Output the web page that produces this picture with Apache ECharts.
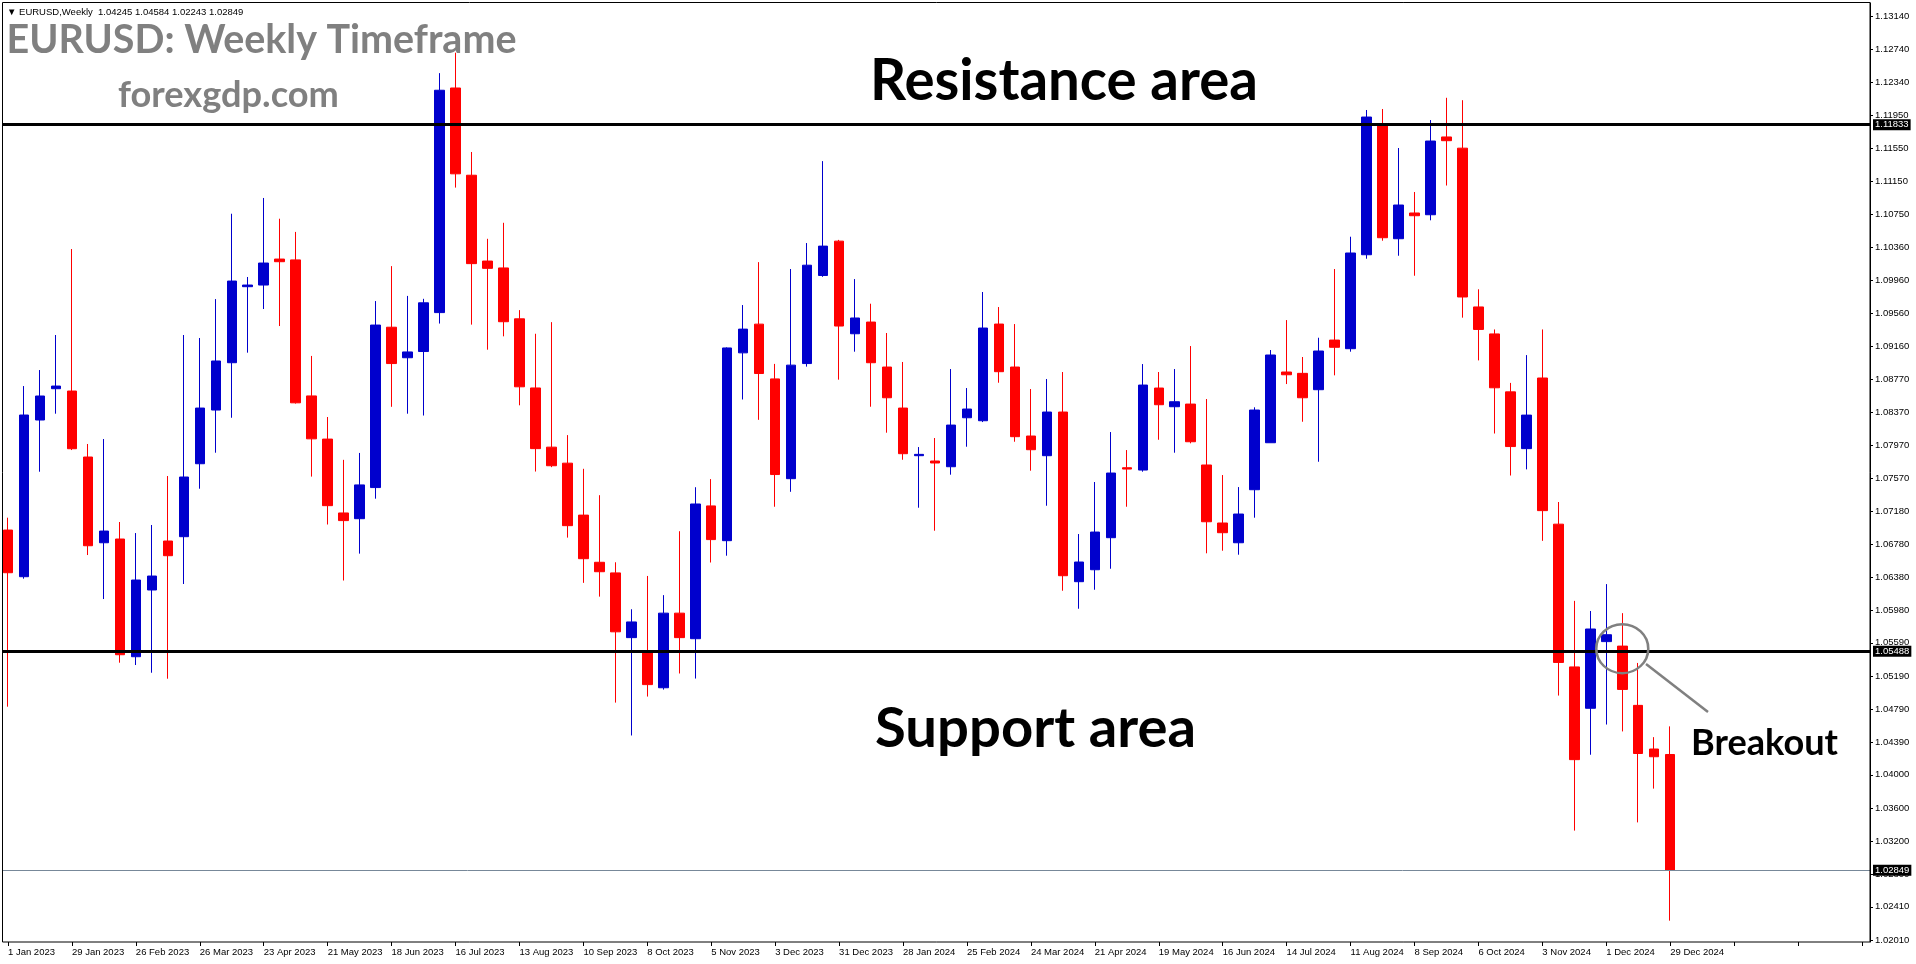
<!DOCTYPE html>
<html><head><meta charset="utf-8">
<script src="https://cdn.jsdelivr.net/npm/echarts@6/dist/echarts.min.js"></script>
<style>html,body{margin:0;padding:0;background:#fff;overflow:hidden}#c{width:1916px;height:964px}</style>
</head><body><div id="c"></div>
<script>
const weeks = ['1 Jan 2023','8 Jan 2023','15 Jan 2023','22 Jan 2023','29 Jan 2023','5 Feb 2023','12 Feb 2023','19 Feb 2023','26 Feb 2023','5 Mar 2023','12 Mar 2023','19 Mar 2023','26 Mar 2023','2 Apr 2023','9 Apr 2023','16 Apr 2023','23 Apr 2023','30 Apr 2023','7 May 2023','14 May 2023','21 May 2023','28 May 2023','4 Jun 2023','11 Jun 2023','18 Jun 2023','25 Jun 2023','2 Jul 2023','9 Jul 2023','16 Jul 2023','23 Jul 2023','30 Jul 2023','6 Aug 2023','13 Aug 2023','20 Aug 2023','27 Aug 2023','3 Sep 2023','10 Sep 2023','17 Sep 2023','24 Sep 2023','1 Oct 2023','8 Oct 2023','15 Oct 2023','22 Oct 2023','29 Oct 2023','5 Nov 2023','12 Nov 2023','19 Nov 2023','26 Nov 2023','3 Dec 2023','10 Dec 2023','17 Dec 2023','24 Dec 2023','31 Dec 2023','7 Jan 2024','14 Jan 2024','21 Jan 2024','28 Jan 2024','4 Feb 2024','11 Feb 2024','18 Feb 2024','25 Feb 2024','3 Mar 2024','10 Mar 2024','17 Mar 2024','24 Mar 2024','31 Mar 2024','7 Apr 2024','14 Apr 2024','21 Apr 2024','28 Apr 2024','5 May 2024','12 May 2024','19 May 2024','26 May 2024','2 Jun 2024','9 Jun 2024','16 Jun 2024','23 Jun 2024','30 Jun 2024','7 Jul 2024','14 Jul 2024','21 Jul 2024','28 Jul 2024','4 Aug 2024','11 Aug 2024','18 Aug 2024','25 Aug 2024','1 Sep 2024','8 Sep 2024','15 Sep 2024','22 Sep 2024','29 Sep 2024','6 Oct 2024','13 Oct 2024','20 Oct 2024','27 Oct 2024','3 Nov 2024','10 Nov 2024','17 Nov 2024','24 Nov 2024','1 Dec 2024','8 Dec 2024','15 Dec 2024','22 Dec 2024','29 Dec 2024'];
const emptyWeeks = 12; // blank space at the right of the chart (chart shift)

const opens = [1.06949,1.06387,1.08275,1.08652,1.08624,1.07829,1.06796,1.06841,1.05423,1.06227,1.06817,1.06869,1.07748,1.08395,1.08965,1.09881,1.09901,1.10214,1.10204,1.08565,1.08045,1.07155,1.07086,1.07461,1.09393,1.09025,1.09100,1.09569,1.12275,1.11224,1.10190,1.10107,1.09494,1.08661,1.07948,1.07755,1.07129,1.06561,1.06433,1.05653,1.05474,1.05049,1.05948,1.05640,1.07240,1.06821,1.09084,1.09430,1.08770,1.07568,1.08955,1.10016,1.10430,1.09314,1.09455,1.08913,1.08419,1.07845,1.07781,1.07712,1.08302,1.08266,1.09431,1.08913,1.08082,1.07845,1.08371,1.06327,1.06471,1.06857,1.07700,1.07672,1.08660,1.08435,1.08467,1.07733,1.07034,1.06796,1.07435,1.08001,1.08853,1.08837,1.08640,1.09238,1.09134,1.10266,1.11820,1.10459,1.10769,1.10748,1.11685,1.11550,1.09637,1.09312,1.08614,1.07930,1.08781,1.07020,1.05300,1.04802,1.05605,1.05551,1.04837,1.04311,1.04245];
const highs = [1.07098,1.08684,1.08877,1.09299,1.10335,1.07986,1.08046,1.07046,1.06913,1.07010,1.07600,1.09299,1.09263,1.09732,1.10760,1.09998,1.10950,1.10700,1.10541,1.09047,1.08311,1.07795,1.07878,1.09708,1.10129,1.09770,1.09735,1.12454,1.12700,1.11504,1.10458,1.10651,1.09599,1.09314,1.09454,1.08093,1.07687,1.07369,1.06561,1.05995,1.06396,1.06165,1.06935,1.07465,1.07563,1.09150,1.09660,1.10177,1.08951,1.10094,1.10407,1.11394,1.10445,1.09973,1.09676,1.09323,1.08974,1.07949,1.08058,1.08889,1.08660,1.09817,1.09636,1.09431,1.08648,1.08769,1.08853,1.06901,1.07528,1.08130,1.07913,1.08949,1.08853,1.08889,1.09166,1.08528,1.07612,1.07467,1.08428,1.09118,1.09479,1.09034,1.09266,1.10094,1.10483,1.12010,1.12022,1.11552,1.11022,1.11889,1.12157,1.12128,1.09850,1.09366,1.08722,1.09057,1.09366,1.07287,1.06096,1.05974,1.06298,1.05948,1.05348,1.04454,1.04584];
const lows = [1.04821,1.06363,1.07652,1.08351,1.07913,1.06648,1.06118,1.05351,1.05323,1.05230,1.05158,1.06299,1.07447,1.07881,1.08302,1.09086,1.09612,1.09407,1.08473,1.07593,1.07016,1.06341,1.06665,1.07327,1.08434,1.08351,1.08329,1.09437,1.11075,1.09424,1.09122,1.09283,1.08452,1.07654,1.07707,1.06858,1.06313,1.06147,1.04870,1.04474,1.04943,1.05027,1.05221,1.05160,1.06558,1.06640,1.08522,1.08277,1.07230,1.07410,1.08918,1.10000,1.08761,1.09098,1.08435,1.08122,1.07796,1.07218,1.06941,1.07616,1.07953,1.08250,1.08724,1.08013,1.07664,1.07242,1.06218,1.06001,1.06230,1.06483,1.07230,1.07652,1.08037,1.07881,1.07994,1.06669,1.06700,1.06652,1.07098,1.08001,1.08708,1.08254,1.07772,1.08813,1.09098,1.10218,1.10435,1.10254,1.10013,1.10681,1.11100,1.09508,1.08993,1.08112,1.07606,1.07680,1.06819,1.04955,1.03328,1.04242,1.04606,1.04523,1.03427,1.03834,1.02243];
const closes = [1.06435,1.08335,1.08564,1.08684,1.07929,1.06760,1.06937,1.05447,1.06347,1.06395,1.06640,1.07588,1.08419,1.08986,1.09949,1.09901,1.10166,1.10182,1.08482,1.08048,1.07243,1.07063,1.07493,1.09419,1.08955,1.09095,1.09687,1.12248,1.11241,1.10159,1.10102,1.09459,1.08675,1.07930,1.07724,1.07002,1.06604,1.06447,1.05723,1.05842,1.05087,1.05948,1.05653,1.07263,1.06834,1.09143,1.09370,1.08835,1.07618,1.08936,1.10140,1.10370,1.09407,1.09504,1.08965,1.08543,1.07869,1.07861,1.07757,1.08214,1.08407,1.09383,1.08857,1.08074,1.07917,1.08371,1.06399,1.06564,1.06925,1.07636,1.07684,1.08696,1.08459,1.08495,1.08013,1.07049,1.06917,1.07142,1.08395,1.09058,1.08820,1.08543,1.09106,1.09151,1.10287,1.11925,1.10471,1.10865,1.10736,1.11636,1.11640,1.09757,1.09366,1.08663,1.07955,1.08334,1.07183,1.05354,1.04183,1.05757,1.05688,1.05029,1.04257,1.04218,1.02849];

const yTicks = [1.13140,1.12740,1.12340,1.11950,1.11550,1.11150,1.10750,1.10360,1.09960,1.09560,1.09160,1.08770,1.08370,1.07970,1.07570,1.07180,1.06780,1.06380,1.05980,1.05590,1.05190,1.04790,1.04390,1.04000,1.03600,1.03200,1.02800,1.02410,1.02010];
const yMin = 1.01986, yMax = 1.13299;
const resistanceLevel = 1.11833;
const supportLevel = 1.05488;
const breakoutWeek = 101, breakoutPrice = 1.0552;

const symbol = 'EURUSD', timeframe = 'Weekly';
const titleText = 'EURUSD: Weekly Timeframe';
const siteText = 'forexgdp.com';

const BULL = '#0000CD', BEAR = '#FF0000';
const last = weeks.length - 1;
const lastClose = closes[last];
const categories = weeks.concat(Array.from({length: emptyWeeks}, (_, k) => 'pad' + k));
const candles = opens.map((o, i) => [o, closes[i], lows[i], highs[i]]);

// fit text to a target width using canvas measurement
const mctx = document.createElement('canvas').getContext('2d');
function fitSize(text, weight, family, width) {
  mctx.font = weight + ' 100px ' + family;
  return 100 * width / mctx.measureText(text).width;
}
function textEl(text, x, baseline, width, weight, family, fill, mid) {
  const s = fitSize(text, weight, family, width);
  return {type: 'text', z: 120, silent: true, x: x, y: baseline - (mid || 0.32) * s,
    style: {text: text, fill: fill, font: weight + ' ' + s.toFixed(2) + 'px ' + family, align: 'left', verticalAlign: 'middle'}};
}

const FONT_SMALL = '"Liberation Sans", "DejaVu Sans", sans-serif';
const BIG = 'Lato';

const chart = echarts.init(document.getElementById('c'), null, {renderer: 'canvas'});
const infoText = '\u25BC ' + symbol + ',' + timeframe + '  ' + [opens[last], highs[last], lows[last], closes[last]].map(v => v.toFixed(5)).join(' ');

chart.setOption({
  animation: false,
  backgroundColor: '#fff',
  grid: {left: -4.5, right: 46, top: 3, bottom: 22, containLabel: false},
  xAxis: {
    type: 'category', data: categories, boundaryGap: true,
    axisLine: {show: false},
    axisTick: {show: true, interval: 3, alignWithLabel: true, length: 4, lineStyle: {color: '#000'}},
    axisLabel: {interval: 3, align: 'left', margin: 5, color: '#000', fontSize: 9.5, fontFamily: FONT_SMALL,
      formatter: (v, i) => (i <= last ? v : '')},
    splitLine: {show: false}
  },
  yAxis: {
    type: 'value', position: 'right', min: yMin, max: yMax, scale: true,
    axisLine: {show: true, lineStyle: {color: '#000', width: 1}},
    axisTick: {show: true, customValues: yTicks, length: 3, lineStyle: {color: '#000'}},
    axisLabel: {customValues: yTicks, margin: 5, color: '#000', fontSize: 9.5, fontFamily: FONT_SMALL,
      formatter: v => v.toFixed(5)},
    splitLine: {show: false}
  },
  series: [{
    type: 'candlestick', data: candles, barWidth: 10, silent: true,
    itemStyle: {color: BULL, color0: BEAR, borderColor: BULL, borderColor0: BEAR, borderWidth: 1},
    markLine: {
      silent: true, symbol: 'none', animation: false, precision: 5,
      label: {show: true, position: 'end', distance: 3, color: '#fff', backgroundColor: '#000',
        padding: [1, 2, 0, 2], fontSize: 9.5, fontFamily: FONT_SMALL, formatter: p => Number(p.value).toFixed(5)},
      data: [
        {yAxis: resistanceLevel, lineStyle: {color: '#000', width: 3, type: 'solid'}},
        {yAxis: supportLevel, lineStyle: {color: '#000', width: 3, type: 'solid'}},
        {yAxis: lastClose, lineStyle: {color: '#778899', width: 1, type: 'solid'}}
      ]
    },
    markPoint: {
      silent: true, animation: false,
      data: [{coord: [breakoutWeek, breakoutPrice], symbol: 'circle', symbolSize: [52, 49],
        itemStyle: {color: 'rgba(0,0,0,0)', borderColor: '#808080', borderWidth: 2.5},
        label: {show: false}}]
    }
  }],
  graphic: [
    {type: 'rect', z: 110, silent: true, shape: {x: 0, y: 0, width: 2, height: 964}, style: {fill: '#fff'}},
    {type: 'rect', z: 111, silent: true, shape: {x: 2.5, y: 2.5, width: 1867.5, height: 939.5}, style: {fill: 'none', stroke: '#000', lineWidth: 1}},
    {type: 'text', z: 120, silent: true, x: 7, y: 12, style: {text: infoText, fill: '#000', font: '9.5px ' + FONT_SMALL, align: 'left', verticalAlign: 'middle'}},
    textEl(titleText, 6.5, 53, 510, 'bold', BIG, '#808080'),
    textEl(siteText, 118, 107, 221, 'bold', BIG, '#808080'),
    textEl('Resistance area', 870, 100, 388, 'bold', BIG, '#000'),
    textEl('Support area', 875, 747, 321, 'bold', BIG, '#000'),
    textEl('Breakout', 1691, 755, 147, 'bold', BIG, '#000'),
    {type: 'line', z: 115, silent: true, shape: {x1: 1646, y1: 664, x2: 1708, y2: 712}, style: {stroke: '#808080', lineWidth: 2.5}}
  ]
});
</script>
</body></html>
